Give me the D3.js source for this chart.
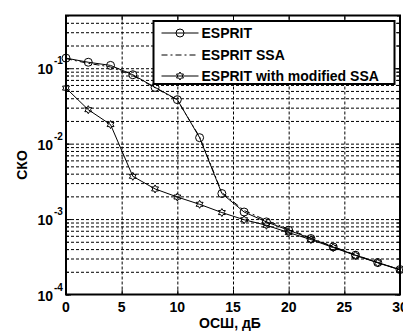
<!DOCTYPE html>
<html>
<head>
<meta charset="utf-8">
<script src="https://cdn.jsdelivr.net/npm/d3@7"></script>
<style>
  body { margin: 0; background: #fff; }
  text { font-family: "Liberation Sans", Arial, sans-serif; font-weight: bold; fill: #000; }
</style>
</head>
<body>
<svg id="chart" width="403" height="331"></svg>
<script>
// data (SNR in dB, RMSE)
const snr = [0, 2, 4, 6, 8, 10, 12, 14, 16, 18, 20, 22, 24, 26, 28, 30];
const esprit = [0.136, 0.120, 0.109, 0.082, 0.0557, 0.0383, 0.0120, 0.00218, 0.00124, 0.000917, 0.000711, 0.000552, 0.000427, 0.000332, 0.000265, 0.000214];
const espritSsa = [0.134, 0.116, 0.104, 0.080, 0.0550, 0.0378, 0.0123, 0.00225, 0.00130, 0.000960, 0.000735, 0.000560, 0.000432, 0.000335, 0.000266, 0.000213];
const espritModSsa = [0.0545, 0.0282, 0.0179, 0.00369, 0.00251, 0.00196, 0.00157, 0.00122, 0.00098, 0.000828, 0.000662, 0.000535, 0.000420, 0.000330, 0.000263, 0.000212];
const seriesNames = ["ESPRIT", "ESPRIT SSA", "ESPRIT with modified SSA"];
const xTicks = [0, 5, 10, 15, 20, 25, 30];
const yDecades = [1e-4, 1e-3, 1e-2, 1e-1];
const yExponents = ["-4", "-3", "-2", "-1"];
const xLabel = "ОСШ, дБ";
const yLabel = "СКО";

const margin = { top: 15.5, right: 3, bottom: 36.5, left: 66 };
const width = 403, height = 331;
const innerW = width - margin.left - margin.right;
const innerH = height - margin.top - margin.bottom;

const svg = d3.select("#chart");
const g = svg.append("g").attr("transform", `translate(${margin.left},${margin.top})`);

const x = d3.scaleLinear().domain([0, 30]).range([0, innerW]);
const y = d3.scaleLog().domain([1e-4, 0.5]).range([innerH, 0]);

// minor log values for the grid
const yMinor = [];
for (let e = -4; e <= -1; e++) {
  for (let k = 1; k <= 9; k++) {
    const v = k * Math.pow(10, e);
    if (v <= 0.5 + 1e-12) yMinor.push(v);
  }
}

// grid
g.append("g")
  .attr("class", "grid")
  .call(d3.axisLeft(y).tickValues(yMinor.filter(v => v > 1e-4 && v < 0.5)).tickSize(-innerW).tickFormat(""))
  .call(s => s.select(".domain").remove())
  .selectAll("line")
  .attr("stroke", "#000").attr("stroke-width", 1).attr("stroke-dasharray", "3,2");

g.append("g")
  .attr("class", "grid")
  .attr("transform", `translate(0,${innerH})`)
  .call(d3.axisBottom(x).tickValues(xTicks.slice(1, -1)).tickSize(-innerH).tickFormat(""))
  .call(s => s.select(".domain").remove())
  .selectAll("line")
  .attr("stroke", "#000").attr("stroke-width", 1).attr("stroke-dasharray", "3,2");

// ticks (inside) on all four sides
function tickStyle(s) {
  s.select(".domain").remove();
  s.selectAll("line").attr("stroke", "#000").attr("stroke-width", 1);
}
g.append("g").call(d3.axisLeft(y).tickValues(yDecades).tickSize(-5).tickFormat("")).call(tickStyle);
g.append("g").call(d3.axisLeft(y).tickValues(yMinor).tickSize(-3).tickFormat("")).call(tickStyle);
g.append("g").attr("transform", `translate(${innerW},0)`)
  .call(d3.axisRight(y).tickValues(yDecades).tickSize(-5).tickFormat("")).call(tickStyle);
g.append("g").attr("transform", `translate(${innerW},0)`)
  .call(d3.axisRight(y).tickValues(yMinor).tickSize(-3).tickFormat("")).call(tickStyle);
g.append("g").attr("transform", `translate(0,${innerH})`)
  .call(d3.axisBottom(x).tickValues(xTicks).tickSize(-5).tickFormat("")).call(tickStyle);
g.append("g")
  .call(d3.axisTop(x).tickValues(xTicks).tickSize(-5).tickFormat("")).call(tickStyle);

// tick labels
g.selectAll(".xlab").data(xTicks).enter().append("text")
  .attr("x", d => x(d)).attr("y", innerH + 17)
  .attr("text-anchor", "middle").style("font-size", "14px")
  .text(d => d);

const yl = g.selectAll(".ylab").data(yDecades).enter().append("g")
  .attr("transform", d => `translate(-13,${y(d)})`);
yl.append("text").attr("x", 0).attr("y", 6)
  .attr("text-anchor", "end").style("font-size", "14px").text("10");
yl.append("text").attr("x", 1).attr("y", -4)
  .style("font-size", "10px").text((d, i) => yExponents[i]);

// axis labels
svg.append("text")
  .attr("x", margin.left + innerW / 2 - 3).attr("y", 328)
  .attr("text-anchor", "middle").style("font-size", "14px").text(xLabel);
svg.append("text")
  .attr("transform", `translate(27,165) rotate(-90)`)
  .attr("text-anchor", "middle").style("font-size", "14px").text(yLabel);

// series
const line = d3.line().x(d => x(d[0])).y(d => y(d[1]));
const hexagram = (r) => {
  const pts = [];
  for (let i = 0; i < 12; i++) {
    const a = -Math.PI / 2 + i * Math.PI / 6;
    const rr = i % 2 === 0 ? r : r / Math.sqrt(3);
    pts.push([rr * Math.cos(a), rr * Math.sin(a)]);
  }
  return "M" + pts.map(p => p.join(",")).join("L") + "Z";
};

const series = [
  { name: seriesNames[0], values: esprit, dash: null, marker: "circle" },
  { name: seriesNames[1], values: espritSsa, dash: "6,3,2,3", marker: null },
  { name: seriesNames[2], values: espritModSsa, dash: null, marker: "hexagram" }
];

const plot = g.append("g");
series.forEach(s => {
  const pts = snr.map((v, i) => [v, s.values[i]]);
  plot.append("path").datum(pts)
    .attr("d", line).attr("fill", "none").attr("stroke", "#000").attr("stroke-width", 1)
    .attr("stroke-dasharray", s.dash);
  if (s.marker === "circle") {
    plot.selectAll(null).data(pts).enter().append("circle")
      .attr("cx", d => x(d[0])).attr("cy", d => y(d[1])).attr("r", 4)
      .attr("fill", "none").attr("stroke", "#000").attr("stroke-width", 1);
  } else if (s.marker === "hexagram") {
    plot.selectAll(null).data(pts).enter().append("path")
      .attr("d", hexagram(4)).attr("transform", d => `translate(${x(d[0])},${y(d[1])})`)
      .attr("fill", "none").attr("stroke", "#000").attr("stroke-width", 1);
  }
});

// frame
g.append("rect").attr("width", innerW).attr("height", innerH)
  .attr("fill", "none").attr("stroke", "#000").attr("stroke-width", 2);

// legend
const lg = svg.append("g").attr("transform", "translate(153.5,21)");
lg.append("rect").attr("width", 241).attr("height", 63)
  .attr("fill", "#fff").attr("stroke", "#000").attr("stroke-width", 2);
const rows = [12, 34, 55];
series.forEach((s, i) => {
  const r = lg.append("g").attr("transform", `translate(0,${rows[i]})`);
  r.append("line").attr("x1", 8).attr("x2", 45).attr("y1", 0).attr("y2", 0)
    .attr("stroke", "#000").attr("stroke-width", 1).attr("stroke-dasharray", s.dash);
  if (s.marker === "circle") {
    r.append("circle").attr("cx", 26.5).attr("cy", 0).attr("r", 4)
      .attr("fill", "none").attr("stroke", "#000");
  } else if (s.marker === "hexagram") {
    r.append("path").attr("d", hexagram(4)).attr("transform", "translate(26.5,0)")
      .attr("fill", "none").attr("stroke", "#000");
  }
  r.append("text").attr("x", 48).attr("y", 5).style("font-size", "14px").text(s.name);
});
</script>
</body>
</html>
